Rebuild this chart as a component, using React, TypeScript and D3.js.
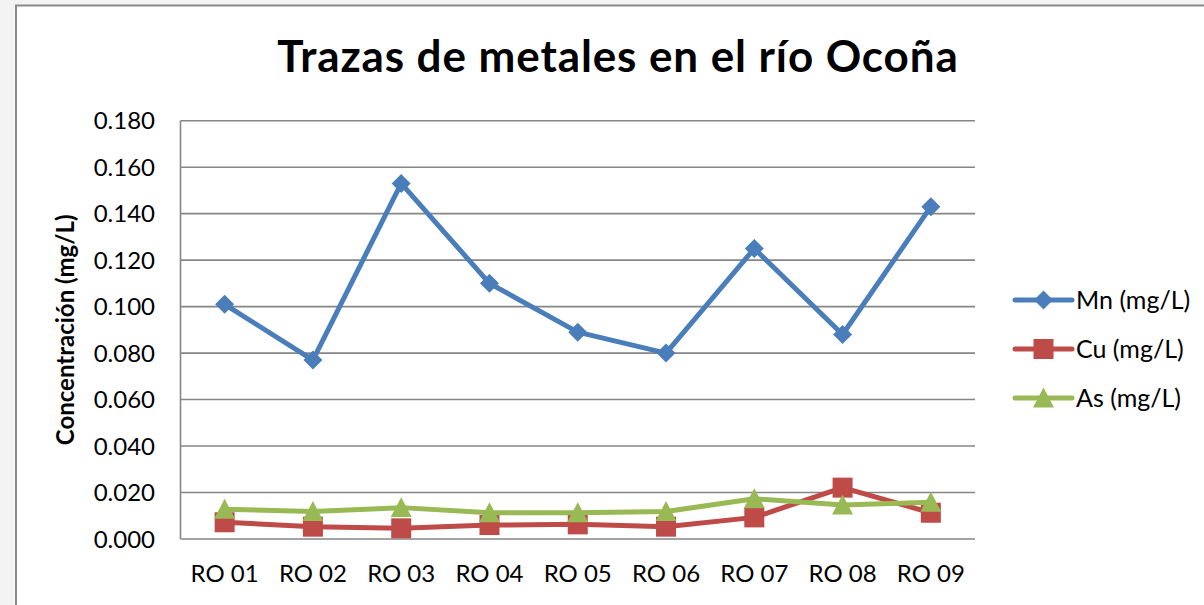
import React from "react";
import * as d3 from "d3";

const categories = ["RO 01", "RO 02", "RO 03", "RO 04", "RO 05", "RO 06", "RO 07", "RO 08", "RO 09"];
const mnValues = [0.101, 0.077, 0.153, 0.110, 0.089, 0.080, 0.125, 0.088, 0.143];
const cuValues = [0.0072, 0.0053, 0.0046, 0.006, 0.0063, 0.0053, 0.0093, 0.0221, 0.0113];
const asValues = [0.0128, 0.0118, 0.0135, 0.0113, 0.0113, 0.0118, 0.0173, 0.0146, 0.0158];
const yTicks = [0, 0.02, 0.04, 0.06, 0.08, 0.1, 0.12, 0.14, 0.16, 0.18];
const seriesNames = ["Mn (mg/L)", "Cu (mg/L)", "As (mg/L)"];

const W = 1204;
const H = 605;
const plot = { left: 180.5, right: 975, top: 120.7, bottom: 539 };
const FONT = "Lato, 'Open Sans', sans-serif";
const colors = ["#4A7EBB", "#BE4B48", "#98B954"];

function Marker({ kind, x, y, color }: { kind: number; x: number; y: number; color: string }) {
  if (kind === 0) {
    const s = 9.5;
    return <path d={`M${x},${y - s}L${x + s},${y}L${x},${y + s}L${x - s},${y}Z`} fill={color} />;
  }
  if (kind === 1) {
    const s = 10;
    return <rect x={x - s} y={y - s} width={2 * s} height={2 * s} fill={color} />;
  }
  const s = 10.5;
  return <path d={`M${x},${y - s}L${x + s},${y + s * 0.9}L${x - s},${y + s * 0.9}Z`} fill={color} />;
}

export default function App() {
  const x = d3.scalePoint<string>().domain(categories).range([plot.left, plot.right]).padding(0.5);
  const y = d3.scaleLinear().domain([0, 0.18]).range([plot.bottom, plot.top]);
  const line = d3
    .line<number>()
    .x((_, i) => x(categories[i]) as number)
    .y((d) => y(d));
  const allSeries = [mnValues, cuValues, asValues];
  const legendY = [300, 349, 398];
  const fmt = d3.format(".3f");

  return (
    <div style={{ position: "fixed", left: 0, top: 0 }}>
      <svg width={W} height={H} style={{ display: "block" }}>
        <rect x={0} y={0} width={W} height={H} fill="#f3f3f3" />
        <rect x={16} y={5.5} width={W + 20} height={H + 20} fill="#ffffff" stroke="#8a8a8a" strokeWidth={2} />
        <text
          x={618}
          y={72}
          textAnchor="middle"
          fontFamily={FONT}
          fontWeight="bold"
          fontSize={44}
          letterSpacing={0.9}
          fill="#000"
        >
          Trazas de metales en el río Ocoña
        </text>
        {yTicks.map((t) => (
          <g key={t}>
            <line x1={plot.left} x2={plot.right} y1={y(t)} y2={y(t)} stroke="#868686" strokeWidth={1.6} />
            <text x={155} y={y(t) + 8.5} textAnchor="end" fontFamily={FONT} fontSize={24} fill="#000">
              {fmt(t)}
            </text>
          </g>
        ))}
        <line x1={plot.left} x2={plot.left} y1={plot.top} y2={plot.bottom} stroke="#868686" strokeWidth={1.6} />
        {categories.map((c) => (
          <text key={c} x={x(c) as number} y={582} textAnchor="middle" fontFamily={FONT} fontSize={24} fill="#000">
            {c}
          </text>
        ))}
        <text
          transform={`translate(74, ${(plot.top + plot.bottom) / 2}) rotate(-90)`}
          textAnchor="middle"
          fontFamily={FONT}
          fontWeight="bold"
          fontSize={24}
          fill="#000"
        >
          Concentración (mg/L)
        </text>
        {allSeries.map((vals, si) => (
          <g key={si}>
            <path d={line(vals) || ""} fill="none" stroke={colors[si]} strokeWidth={5} strokeLinejoin="round" />
            {vals.map((v, i) => (
              <Marker key={i} kind={si} x={x(categories[i]) as number} y={y(v)} color={colors[si]} />
            ))}
          </g>
        ))}
        {seriesNames.map((n, si) => (
          <g key={n}>
            <line x1={1015} x2={1072} y1={legendY[si]} y2={legendY[si]} stroke={colors[si]} strokeWidth={5} strokeLinecap="round" />
            <Marker kind={si} x={1043.5} y={legendY[si]} color={colors[si]} />
            <text x={1076} y={legendY[si] + 8.5} fontFamily={FONT} fontSize={25} fill="#000">
              {n}
            </text>
          </g>
        ))}
      </svg>
    </div>
  );
}
